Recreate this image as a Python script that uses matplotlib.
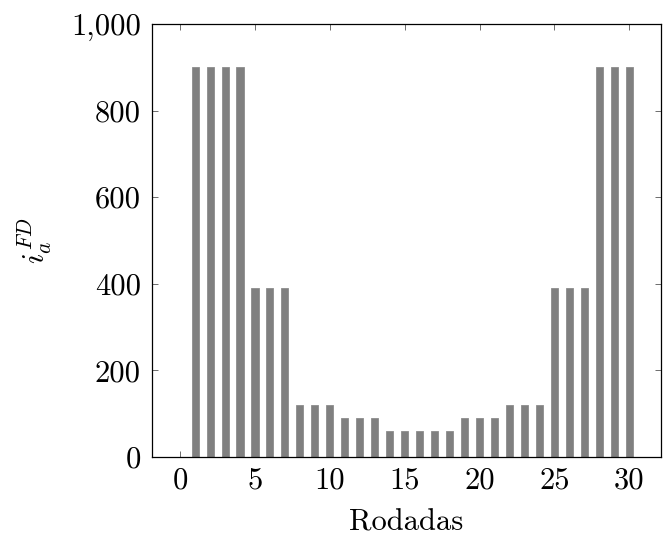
import matplotlib
matplotlib.use("Agg")
import matplotlib.pyplot as plt

# Rounds and their values
rodadas = list(range(1, 31))
valores = [900, 900, 900, 900,
           390, 390, 390,
           120, 120, 120,
           90, 90, 90,
           60, 60, 60, 60, 60,
           90, 90, 90,
           120, 120, 120,
           390, 390, 390,
           900, 900, 900]

x_ticks = [0, 5, 10, 15, 20, 25, 30]
y_ticks = [0, 200, 400, 600, 800, 1000]
y_tick_labels = ["0", "200", "400", "600", "800", "1,000"]

plt.rcParams["font.family"] = "serif"
plt.rcParams["font.serif"] = ["cmr10", "DejaVu Serif"]
plt.rcParams["mathtext.fontset"] = "cm"
plt.rcParams["axes.unicode_minus"] = False

fig = plt.figure(figsize=(6.64, 5.36), dpi=100)
ax = fig.add_axes([0.2289, 0.1474, 0.7661, 0.8078])

ax.bar(rodadas, valores, width=0.47, color="#808080", edgecolor="#8c8c8c",
       linewidth=0.6, zorder=2)

ax.set_xlim(-1.88, 32.1)
ax.set_ylim(0, 1000)
ax.set_xticks(x_ticks)
ax.set_xticklabels([str(t) for t in x_ticks])
ax.set_yticks(y_ticks)
ax.set_yticklabels(y_tick_labels)

ax.tick_params(axis="both", direction="in", length=4, width=0.6,
               color="#555555", labelsize=22, pad=7,
               top=True, right=True)
ax.tick_params(axis="y", pad=8)
for s in ax.spines.values():
    s.set_linewidth(0.9)
    s.set_zorder(3)

ax.set_xlabel("Rodadas", fontsize=22, labelpad=11)
ax.set_ylabel(r"$i_a^{FD}$", fontsize=22, labelpad=12)

fig.savefig("out.png", dpi=100)
